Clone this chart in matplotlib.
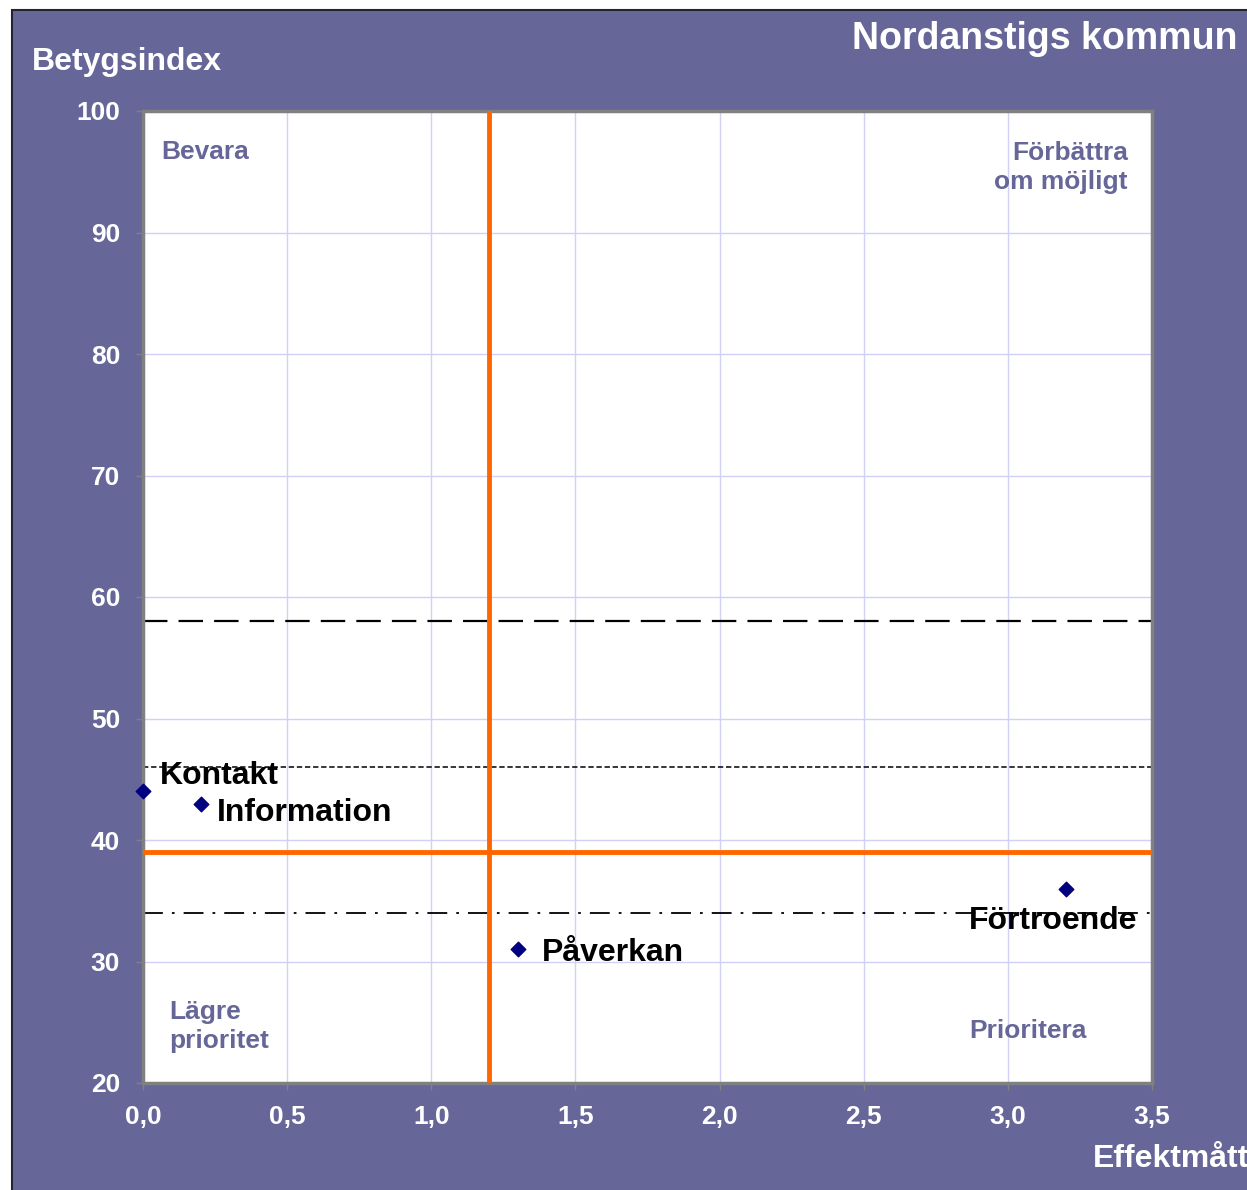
import matplotlib
matplotlib.use("Agg")
import matplotlib.pyplot as plt
from matplotlib.patches import Rectangle

plt.rcParams['font.family'] = ['Liberation Sans', 'DejaVu Sans']
plt.rcParams['font.weight'] = 'bold'

# data
labels = ['Kontakt', 'Information', 'Påverkan', 'Förtroende']
effekt = [0.0, 0.2, 1.3, 3.2]
betyg = [44, 43, 31, 36]
# offsets of the labels (points) and alignment
lab_off = [(12, 11), (12, -6.5), (17, -2.5), (-9, -23)]
lab_ha = ['left', 'left', 'left', 'center']

ref_lines = [58, 46, 34]
ref_styles = [(0, (11, 5)), (0, (3.5, 1.8)), (0, (11, 5, 1.5, 5))]
ref_widths = [1.6, 1.1, 1.3]
x_mid = 1.2
y_mid = 39

xticks = [0, 0.5, 1.0, 1.5, 2.0, 2.5, 3.0, 3.5]
yticks = [20, 30, 40, 50, 60, 70, 80, 90, 100]

purple = '#666699'

fig = plt.figure(figsize=(12.47, 11.90), dpi=100, facecolor='white')
fig.patches.append(Rectangle((12 / 1247, -0.01), 1.0, 1 - 10 / 1190 + 0.01,
                             transform=fig.transFigure, facecolor=purple,
                             edgecolor='#222233', linewidth=1.5, zorder=-10))

ax = fig.add_axes([143 / 1247, 1 - 1083 / 1190, (1152 - 143) / 1247, (1083 - 111) / 1190])
ax.set_facecolor('white')
ax.set_xlim(0, 3.5)
ax.set_ylim(20, 100)
ax.set_xticks(xticks)
ax.set_yticks(yticks)
ax.set_xticklabels([('%.1f' % v).replace('.', ',') for v in xticks])
ax.set_yticklabels([str(v) for v in yticks])
ax.tick_params(colors='#808080', labelcolor='white', labelsize=19, length=5, width=1)
ax.tick_params(axis='x', pad=11)
ax.tick_params(axis='y', pad=11.5)
ax.grid(True, color='#d0d0f8', linewidth=1)
ax.set_axisbelow(True)
for s in ax.spines.values():
    s.set_color('#808080')
    s.set_linewidth(2.5)

for yv, ls, lw in zip(ref_lines, ref_styles, ref_widths):
    ax.axhline(yv, color='black', linestyle=ls, linewidth=lw, zorder=2)

ax.axvline(x_mid, color='#ff6600', linewidth=3.5, zorder=3)
ax.axhline(y_mid, color='#ff6600', linewidth=3.5, zorder=3)

ax.scatter(effekt, betyg, marker='D', s=55, color='#000080', zorder=5, clip_on=False)
for lab, x, y, off, ha in zip(labels, effekt, betyg, lab_off, lab_ha):
    ax.annotate(lab, (x, y), xytext=off, textcoords='offset points', ha=ha,
                va='center', fontsize=23, fontweight='bold', color='black', zorder=6)

qc = purple
ax.text(0.018, 0.958, 'Bevara', transform=ax.transAxes, ha='left', va='center',
        fontsize=19, color=qc, fontweight='bold')
ax.text(0.976, 0.942, 'Förbättra\nom möjligt', transform=ax.transAxes, ha='right',
        va='center', fontsize=19, color=qc, fontweight='bold', linespacing=1.27,
        multialignment='right')
ax.text(0.026, 0.058, 'Lägre\nprioritet', transform=ax.transAxes, ha='left',
        va='center', fontsize=19, color=qc, fontweight='bold', linespacing=1.27)
ax.text(0.819, 0.054, 'Prioritera', transform=ax.transAxes, ha='left',
        va='center', fontsize=19, color=qc, fontweight='bold')

fig.text(1237 / 1247, 1 - 39 / 1190, 'Nordanstigs kommun', ha='right', va='center',
         fontsize=27, color='white', fontweight='bold')
fig.text(32 / 1247, 1 - 62 / 1190, 'Betygsindex', ha='left', va='center',
         fontsize=23, color='white', fontweight='bold')
fig.text(1093 / 1247, 1 - 1159 / 1190, 'Effektmått', ha='left', va='center',
         fontsize=23, color='white', fontweight='bold')

fig.savefig('out.png', dpi=100, facecolor=fig.get_facecolor())
